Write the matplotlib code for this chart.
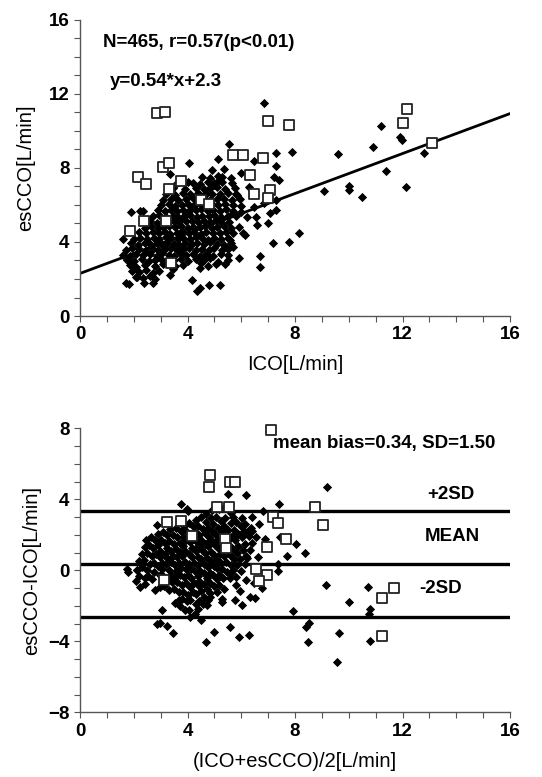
import numpy as np
import matplotlib
matplotlib.use('Agg')
import matplotlib.pyplot as plt
from matplotlib.ticker import MultipleLocator

plt.rcParams['font.family'] = ['Liberation Sans', 'DejaVu Sans']

# esCCO vs ICO, small black diamonds
ico_dia = [
    2.10, 2.35, 2.62, 2.80, 3.36,
    1.95, 2.20, 2.46, 2.70, 2.95, 3.45, 4.45,
    1.85, 2.10, 2.40, 2.80, 3.10, 3.55, 3.85, 4.50, 4.75, 5.05,
    1.75, 2.00, 2.30, 2.55, 2.80, 3.00, 3.25, 3.50, 3.75, 4.00, 4.30, 4.60, 4.85, 5.15, 5.50,
    1.60, 1.85, 2.10, 2.35, 2.60, 2.85, 3.05, 3.30, 3.50, 3.75, 3.95, 4.20, 4.45, 4.70, 4.95, 5.25, 5.50,
    1.70, 1.95, 2.20, 2.45, 2.70, 2.90, 3.15, 3.40, 3.60, 3.85, 4.05, 4.30, 4.55, 4.80, 5.00, 5.30, 5.50,
    1.90, 2.15, 2.40, 2.60, 2.85, 3.05, 3.25, 3.50, 3.70, 3.90, 4.15, 4.35, 4.60, 4.85, 5.10, 5.35, 5.60,
    2.00, 2.25, 2.50, 2.75, 2.95, 3.20, 3.40, 3.65, 3.85, 4.10, 4.30, 4.55, 4.75, 5.00, 5.25, 5.50,
    2.20, 2.45, 2.70, 2.95, 3.15, 3.35, 3.60, 3.80, 4.05, 4.25, 4.50, 4.70, 4.95, 5.20, 5.45, 5.70,
    2.40, 2.65, 2.90, 3.10, 3.30, 3.55, 3.75, 4.00, 4.20, 4.45, 4.65, 4.90, 5.10, 5.35, 5.60,
    2.60, 2.85, 3.10, 3.30, 3.50, 3.70, 3.95, 4.15, 4.40, 4.60, 4.85, 5.05, 5.30, 5.55,
    2.70, 2.95, 3.20, 3.45, 3.65, 3.90, 4.10, 4.35, 4.55, 4.80, 5.00, 5.25, 5.50, 5.80,
    2.90, 3.15, 3.40, 3.60, 3.85, 4.05, 4.30, 4.50, 4.75, 4.95, 5.20, 5.45, 5.70, 6.00,
    3.00, 3.30, 3.55, 3.80, 4.00, 4.25, 4.50, 4.70, 4.90, 5.15, 5.40, 5.70, 6.00,
    3.10, 3.40, 3.65, 3.95, 4.20, 4.45, 4.65, 4.85, 5.10, 5.35, 5.65, 5.95,
    3.20, 3.55, 3.85, 4.10, 4.40, 4.65, 4.90, 5.20, 5.50, 5.80,
    3.45, 3.90, 4.30, 4.60, 4.85, 5.10, 5.40, 5.75,
    3.60, 4.00, 4.45, 4.75, 5.00, 5.30, 5.65,
    4.55, 4.85, 5.15, 5.60,
    4.90, 5.35,
    3.80, 3.95, 4.10, 4.25, 4.40, 4.55, 4.70, 4.85, 5.00, 5.15, 5.30,
    5.91, 6.21, 5.71, 6.27, 5.86, 6.08, 6.58, 6.56, 6.46, 6.83, 7.08, 5.71, 5.59, 6.15,
    6.83, 11.19, 10.92, 9.59, 11.90, 11.97, 11.39, 12.80, 12.13, 10.02, 10.02, 9.08, 10.51,
    7.89, 7.29, 7.30, 7.40, 7.20, 7.29, 7.29, 7.00, 7.17, 7.79, 8.13, 6.70, 6.70, 5.90,
    5.41, 5.22, 4.81, 4.37, 4.47, 4.16, 4.04, 5.56, 5.12, 4.19, 6.49, 5.99, 1.72, 1.81,
    2.37, 2.71, 2.12, 1.60, 1.90, 2.24, 2.34, 3.35,
]
esc_dia = [
    2.12, 2.05, 2.18, 2.02, 2.24,
    2.45, 2.38, 2.50, 2.35, 2.44, 2.52, 2.60,
    2.75, 2.66, 2.78, 2.70, 2.82, 2.68, 2.76, 2.85, 2.72, 2.80,
    3.05, 2.96, 3.08, 2.98, 3.04, 3.10, 2.95, 3.02, 3.09, 2.97, 3.06, 3.00, 3.11, 2.94, 3.03,
    3.32, 3.25, 3.36, 3.28, 3.34, 3.24, 3.38, 3.30, 3.26, 3.35, 3.29, 3.37, 3.23, 3.33, 3.27, 3.36, 3.30,
    3.58, 3.66, 3.60, 3.54, 3.64, 3.57, 3.62, 3.68, 3.55, 3.61, 3.67, 3.56, 3.63, 3.59, 3.65, 3.58, 3.62,
    3.92, 3.86, 3.95, 3.88, 3.93, 3.85, 3.97, 3.90, 3.84, 3.96, 3.89, 3.94, 3.87, 3.98, 3.91, 3.86, 3.95,
    4.18, 4.24, 4.15, 4.22, 4.17, 4.25, 4.19, 4.14, 4.23, 4.16, 4.26, 4.20, 4.13, 4.24, 4.18, 4.21,
    4.52, 4.46, 4.55, 4.48, 4.54, 4.45, 4.50, 4.57, 4.47, 4.53, 4.44, 4.56, 4.49, 4.51, 4.55, 4.46,
    4.78, 4.84, 4.76, 4.82, 4.87, 4.79, 4.85, 4.75, 4.83, 4.80, 4.86, 4.77, 4.81, 4.84, 4.78,
    5.12, 5.05, 5.14, 5.08, 5.16, 5.06, 5.11, 5.15, 5.07, 5.13, 5.09, 5.17, 5.04, 5.10,
    5.38, 5.44, 5.36, 5.42, 5.35, 5.40, 5.46, 5.37, 5.43, 5.39, 5.45, 5.34, 5.41, 5.38,
    5.72, 5.66, 5.74, 5.68, 5.75, 5.65, 5.71, 5.77, 5.67, 5.73, 5.69, 5.76, 5.70, 5.64,
    5.98, 6.04, 5.96, 6.02, 6.07, 5.97, 6.03, 5.95, 6.05, 5.99, 6.06, 6.01, 5.96,
    6.28, 6.34, 6.26, 6.32, 6.36, 6.27, 6.33, 6.25, 6.31, 6.35, 6.29, 6.30,
    6.62, 6.56, 6.64, 6.58, 6.65, 6.55, 6.61, 6.57, 6.63, 6.59,
    6.92, 6.86, 6.94, 6.88, 6.91, 6.95, 6.87, 6.90,
    7.18, 7.24, 7.16, 7.22, 7.19, 7.25, 7.17,
    7.52, 7.46, 7.55, 7.48,
    7.88, 7.95,
    5.30, 5.50, 5.75, 6.00, 6.20, 6.45, 6.65, 6.90, 7.10, 7.30, 7.50,
    4.83, 5.37, 5.55, 6.99, 6.54, 4.47, 4.92, 5.37, 5.91, 6.09, 5.55, 3.75, 4.11, 4.38,
    11.53, 10.27, 9.12, 8.74, 9.70, 9.50, 7.86, 8.80, 6.99, 7.03, 6.81, 6.76, 6.45,
    8.88, 8.79, 8.10, 7.35, 7.53, 6.27, 5.73, 5.05, 3.96, 4.02, 4.47, 3.24, 2.67, 3.12,
    2.79, 1.68, 1.68, 1.35, 1.50, 1.95, 8.29, 9.28, 8.47, 7.21, 8.38, 7.75, 1.80, 1.73,
    1.77, 1.77, 2.13, 4.14, 5.62, 5.69, 5.69, 7.65,
]

# open squares
ico_sq = [2.86, 3.17, 2.16, 2.45, 3.09, 3.30, 3.30, 3.77, 2.37, 1.87, 3.20, 3.38, 4.50,
          4.80, 5.69, 6.06, 6.31, 6.80, 6.98, 7.77, 6.49, 7.08, 6.98, 12.01, 12.18, 13.09]
esc_sq = [10.95, 11.05, 7.53, 7.12, 8.04, 8.25, 6.86, 7.32, 5.14, 4.61, 5.14, 2.85, 6.27,
          6.05, 8.70, 8.70, 7.62, 8.56, 10.54, 10.31, 6.58, 6.81, 6.36, 10.45, 11.19, 9.37]

slope, intercept = 0.54, 2.3
mean_bias, sd = 0.34, 1.50

ico_dia = np.array(ico_dia)
esc_dia = np.array(esc_dia)
ico_sq = np.array(ico_sq)
esc_sq = np.array(esc_sq)

fig = plt.figure(figsize=(5.42, 7.77), dpi=100)
ax1 = fig.add_axes([0.1476, 0.5933, 0.7934, 0.381])
ax2 = fig.add_axes([0.1476, 0.0833, 0.7934, 0.3655])

dia_kw = dict(marker='D', s=22, c='black', linewidths=0, zorder=3)
sq_kw = dict(marker='s', s=52, facecolors='white', edgecolors='#222222', linewidths=1.3,
             zorder=4, clip_on=False)

# top: correlation
ax1.scatter(ico_dia, esc_dia, **dia_kw)
xl = np.array([0, 16])
ax1.plot(xl, slope * xl + intercept, color='black', lw=2.0, zorder=2)
ax1.scatter(ico_sq, esc_sq, **sq_kw)
ax1.set_xlim(0, 16)
ax1.set_ylim(0, 16)
ax1.text(0.86, 14.8, 'N=465, r=0.57(p<0.01)', fontsize=13.5, fontweight='bold', va='center')
ax1.text(1.12, 12.7, 'y=0.54*x+2.3', fontsize=13.5, fontweight='bold', va='center')
ax1.set_xlabel('ICO[L/min]', fontsize=14.5, labelpad=8)
ax1.set_ylabel('esCCO[L/min]', fontsize=14.5, labelpad=10)

# bottom: Bland-Altman
mean_d = (ico_dia + esc_dia) / 2
diff_d = esc_dia - ico_dia
mean_s = (ico_sq + esc_sq) / 2
diff_s = esc_sq - ico_sq
kd = np.abs(diff_d) <= 8
ks = np.abs(diff_s) <= 8
ax2.scatter(mean_d[kd], diff_d[kd], **dia_kw)
ax2.scatter(mean_s[ks], diff_s[ks], **sq_kw)
for yv in [mean_bias + 2 * sd, mean_bias, mean_bias - 2 * sd]:
    ax2.axhline(yv, color='black', lw=2.4, zorder=2)
ax2.set_xlim(0, 16)
ax2.set_ylim(-8, 8)
ax2.text(7.18, 7.15, 'mean bias=0.34, SD=1.50', fontsize=13.5, fontweight='bold', va='center')
ax2.text(13.8, 4.28, '+2SD', fontsize=13.5, fontweight='bold', ha='center', va='center')
ax2.text(13.84, 1.89, 'MEAN', fontsize=13.5, fontweight='bold', ha='center', va='center')
ax2.text(13.43, -1.05, '-2SD', fontsize=13.5, fontweight='bold', ha='center', va='center')
ax2.set_xlabel('(ICO+esCCO)/2[L/min]', fontsize=14.5, labelpad=9)
ax2.set_ylabel('esCCO-ICO[L/min]', fontsize=14.5, labelpad=5)

for ax in (ax1, ax2):
    for s in ['top', 'right']:
        ax.spines[s].set_visible(False)
    for s in ['left', 'bottom']:
        ax.spines[s].set_color('#555555')
        ax.spines[s].set_linewidth(1.0)
    ax.xaxis.set_major_locator(MultipleLocator(4))
    ax.xaxis.set_minor_locator(MultipleLocator(1))
    ax.yaxis.set_major_locator(MultipleLocator(4))
    ax.yaxis.set_minor_locator(MultipleLocator(1))
    ax.tick_params(which='both', direction='out', length=4.5, width=0.8, color='#555555')
    ax.tick_params(which='major', labelsize=13.5, pad=3)
    for lab in ax.get_xticklabels() + ax.get_yticklabels():
        lab.set_fontweight('bold')

fig.savefig('out.png', dpi=100)
